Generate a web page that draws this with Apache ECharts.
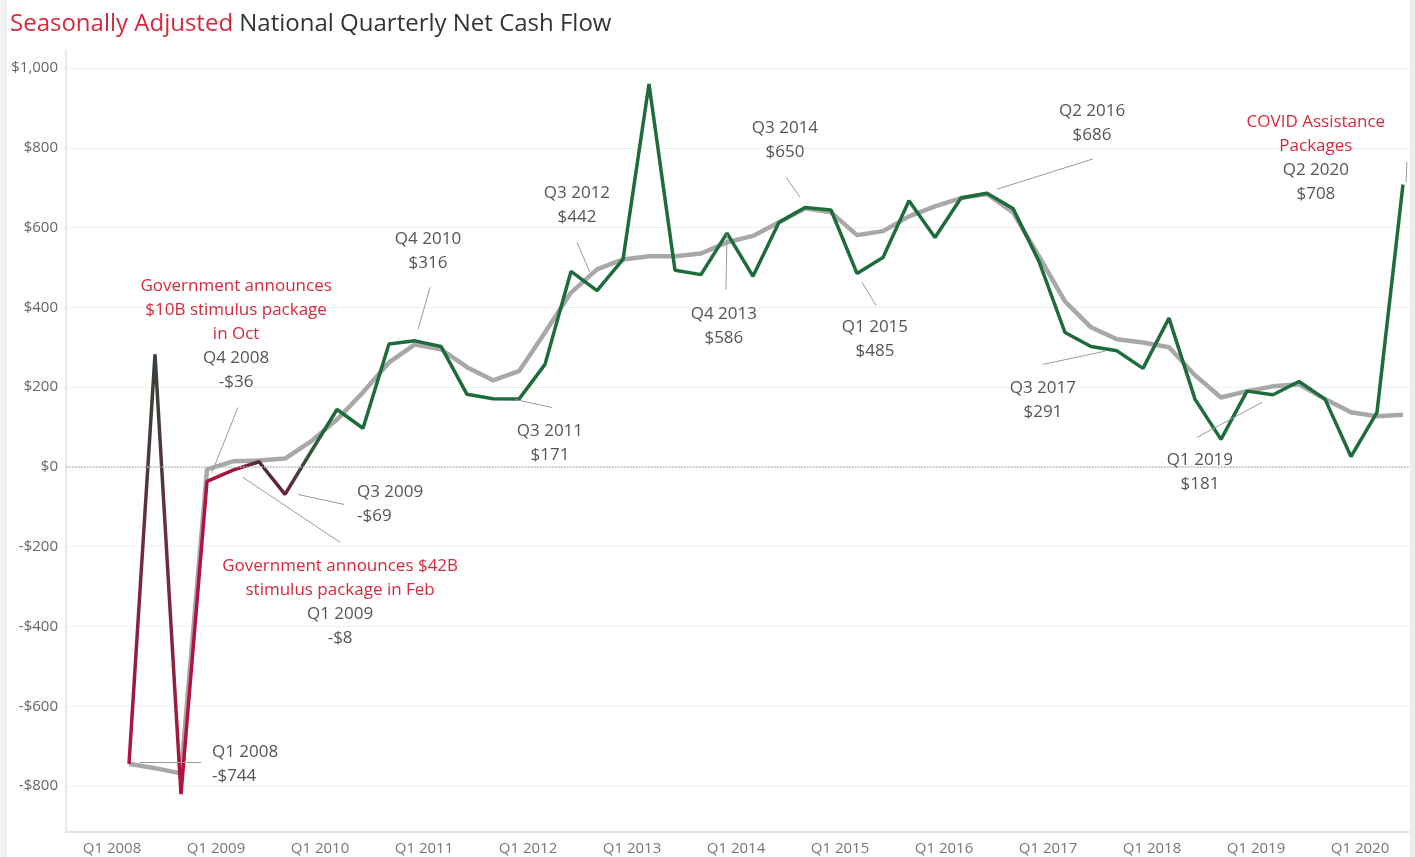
<!DOCTYPE html>
<html><head><meta charset="utf-8">
<script src="https://cdn.jsdelivr.net/npm/echarts@6/dist/echarts.min.js"></script>
<style>
html,body{margin:0;padding:0;background:#fff;}
#wrap{width:1415px;height:857px;box-sizing:border-box;border-left:7px solid #f0f0f0;border-right:5px solid #ececec;}
#chart{width:1403px;height:857px;}
</style></head><body><div id="wrap"><div id="chart"></div></div>
<script>
const quarters = ['Q1 2008','Q2 2008','Q3 2008','Q4 2008','Q1 2009','Q2 2009','Q3 2009','Q4 2009',
  'Q1 2010','Q2 2010','Q3 2010','Q4 2010','Q1 2011','Q2 2011','Q3 2011','Q4 2011',
  'Q1 2012','Q2 2012','Q3 2012','Q4 2012','Q1 2013','Q2 2013','Q3 2013','Q4 2013',
  'Q1 2014','Q2 2014','Q3 2014','Q4 2014','Q1 2015','Q2 2015','Q3 2015','Q4 2015',
  'Q1 2016','Q2 2016','Q3 2016','Q4 2016','Q1 2017','Q2 2017','Q3 2017','Q4 2017',
  'Q1 2018','Q2 2018','Q3 2018','Q4 2018','Q1 2019','Q2 2019','Q3 2019','Q4 2019',
  'Q1 2020','Q2 2020'];
const netCashFlow = [-744, 282, -820, -36, -8, 13, -69, 38,
  144, 97, 308, 316, 302, 182, 171, 170,
  257, 490, 442, 520, 960, 493, 482, 586,
  478, 613, 650, 644, 485, 525, 667, 575,
  674, 686, 648, 515, 337, 302, 291, 247,
  373, 170, 69, 190, 181, 214, 170, 26,
  137, 708];
const trend = [-744, -755, -768, -6, 14, 16, 21, 64,
  119, 187, 262, 307, 295, 250, 217, 240,
  337, 437, 495, 520, 528, 528, 535, 563,
  579, 613, 648, 638, 581, 591, 628, 653,
  674, 684, 638, 528, 415, 350, 320, 312,
  300, 230, 174, 190, 202, 207, 170, 137,
  127, 131];
const xTickLabels = ['Q1 2008','Q1 2009','Q1 2010','Q1 2011','Q1 2012','Q1 2013','Q1 2014',
  'Q1 2015','Q1 2016','Q1 2017','Q1 2018','Q1 2019','Q1 2020'];
const yTicks = [-800, -600, -400, -200, 0, 200, 400, 600, 800, 1000];

// annotations: text block position and leader line in data units (quarter index, value)
const annNotes = [
  {note:['Government announces','$10B stimulus package','in Oct'], q:'Q4 2008', v:-36, at:[4.12, 332], align:'center', leader:[[4.19,149],[3.19,-14]]},
  {note:[], q:'Q4 2010', v:316, at:[11.5, 540], align:'center', leader:[[11.58,450],[11.12,345]]},
  {note:[], q:'Q3 2009', v:-69, at:[8.77, -94], align:'left', leader:[[6.5,-69],[8.27,-94]]},
  {note:['Government announces $42B','stimulus package in Feb'], q:'Q1 2009', v:-8, at:[8.12, -339], align:'center', leader:[[4.38,-26],[8.12,-189]]},
  {note:[], q:'Q1 2008', v:-744, at:[3.19, -744], align:'left', leader:[[0.42,-741],[2.77,-741]]},
  {note:[], q:'Q3 2011', v:171, at:[16.19, 59], align:'center', leader:[[14.85,169],[16.27,149]]},
  {note:[], q:'Q3 2012', v:442, at:[17.23, 657], align:'center', leader:[[17.23,563],[17.73,488]]},
  {note:[], q:'Q4 2013', v:586, at:[22.88, 354], align:'center', leader:[[23.0,583],[22.96,445]]},
  {note:[], q:'Q3 2014', v:650, at:[25.23, 819], align:'center', leader:[[25.27,726],[25.81,676]]},
  {note:[], q:'Q1 2015', v:485, at:[28.69, 320], align:'center', leader:[[28.19,463],[28.73,405]]},
  {note:[], q:'Q2 2016', v:686, at:[37.04, 861], align:'center', leader:[[33.38,696],[37.08,772]]},
  {note:[], q:'Q3 2017', v:291, at:[35.15, 168], align:'center', leader:[[35.15,257],[37.54,290]]},
  {note:[], q:'Q1 2019', v:181, at:[41.19, -14], align:'center', leader:[[41.08,74],[43.58,162]]},
  {note:['COVID Assistance','Packages'], q:'Q2 2020', v:708, at:[45.65, 773], align:'center', leader:[[49.15,764],[49.12,714]]}
];

// styles
const RED = '#d8283c', GREEN = '#1e6b3c', TXT = '#555';
const earlyColors = ['#b5123f','#2f4537','#b5123f','#b3123e','#a5173c','#3a3434','#6e1d36','#2b5b3c'];
const pointColors = quarters.map((q, i) => i < earlyColors.length ? earlyColors[i] : GREEN);

const money = v => (v < 0 ? '-$' : '$') + Math.abs(v).toLocaleString('en-US');
const FONT = 'Open Sans';

const lineData = netCashFlow.map((v, i) => [i, v]);
const trendData = trend.map((v, i) => [i, v]);
const xTickVals = xTickLabels.map(l => quarters.indexOf(l));

const markPoints = annNotes.map(a => {
  const lines = a.note.map(t => '{r|' + t + '}').concat(['{g|' + a.q + '}', '{g|' + money(a.v) + '}']);
  return {
    coord: a.at, symbol: 'circle', symbolSize: 0,
    label: {show: true, position: 'inside', formatter: lines.join('\n'), align: a.align, verticalAlign: 'middle',
      rich: {
        r: {color: RED, fontSize: 17, fontFamily: FONT, lineHeight: 24, align: a.align},
        g: {color: TXT, fontSize: 17, fontFamily: FONT, lineHeight: 24, align: a.align}
      }}
  };
});
const leaderLines = annNotes.map(a => [{coord: a.leader[0]}, {coord: a.leader[1]}]);

const chart = echarts.init(document.getElementById('chart'));
chart.setOption({
  animation: false,
  backgroundColor: '#fff',
  title: {
    text: '{r|Seasonally Adjusted} {d|National Quarterly Net Cash Flow}',
    left: -2, top: 7,
    textStyle: {fontWeight: 'normal', fontSize: 24, fontFamily: FONT, rich: {
      r: {color: RED, fontSize: 24, fontFamily: FONT, fontWeight: 'normal'},
      d: {color: '#333', fontSize: 24, fontFamily: FONT, fontWeight: 'normal'}
    }}
  },
  grid: {left: 59, right: 0, top: 50, bottom: 25, containLabel: false},
  xAxis: {
    type: 'value', min: -2.423, max: 49.27,
    axisLine: {show: true, onZero: false, lineStyle: {color: '#dcdcdc', width: 1.5}},
    axisTick: {show: false, customValues: xTickVals},
    splitLine: {show: false},
    axisLabel: {
      customValues: xTickVals, margin: 9, color: '#777', fontSize: 15, fontFamily: FONT,
      padding: [0, 34, 0, 0],
      formatter: v => quarters[Math.round(v)]
    }
  },
  yAxis: {
    type: 'value', min: -915, max: 1045,
    axisLine: {show: true, onZero: false, lineStyle: {color: '#e2e2e2', width: 1.5}},
    axisTick: {show: false, customValues: yTicks},
    splitLine: {show: true, lineStyle: {color: '#f1f1f1', width: 1}},
    axisLabel: {customValues: yTicks, margin: 8, color: '#666', fontSize: 15, fontFamily: FONT, formatter: money}
  },
  visualMap: {
    type: 'continuous', show: false, seriesIndex: 1, dimension: 0,
    min: 0, max: quarters.length - 1,
    inRange: {color: pointColors}
  },
  series: [
    {
      name: 'Trend', type: 'line', data: trendData, showSymbol: false, symbol: 'none', z: 2,
      lineStyle: {color: '#a8a8a8', width: 4.5}, itemStyle: {color: '#a8a8a8'},
      markLine: {
        silent: true, symbol: 'none', label: {show: false},
        data: [{yAxis: 0, lineStyle: {color: '#b5b5b5', type: 'dotted', width: 1.5}}]
      }
    },
    {
      name: 'Net Cash Flow', type: 'line', data: lineData, showSymbol: false, symbol: 'none', z: 3,
      lineStyle: {width: 3.5},
      markLine: {
        silent: true, symbol: 'none', label: {show: false},
        lineStyle: {color: '#9a9a9a', width: 1, type: 'solid'},
        data: leaderLines
      },
      markPoint: {silent: true, data: markPoints}
    }
  ]
});
</script></body></html>
